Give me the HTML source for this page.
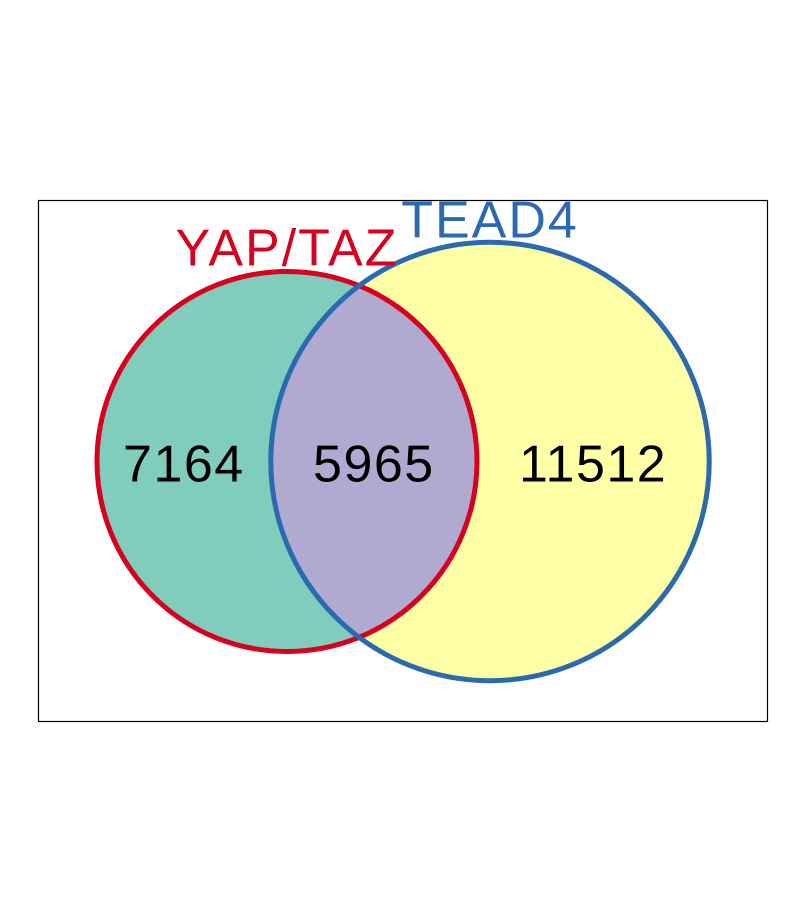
<!DOCTYPE html>
<html><head><meta charset="utf-8"><style>
html,body{margin:0;padding:0;background:#fff;}
svg{display:block;font-family:"Liberation Sans",Arial,sans-serif;}
</style></head><body>
<svg id="chart" width="806" height="924" viewBox="0 0 806 924">
<rect x="38.5" y="200.5" width="729" height="521" fill="none" stroke="#000" stroke-width="1.2"/>
<defs><clipPath id="clipA"><circle id="clipCircle" cx="0" cy="0" r="0"/></clipPath></defs>
<g id="layer"></g>
</svg>
<script>
const setNames = ["YAP/TAZ", "TEAD4"];
const regionCounts = [7164, 5965, 11512]; // A only, A∩B, B only
const setColors = ["#d7001f", "#2b6aae"];
const fillColors = ["#80cdbe", "#b0aad1", "#ffffa6"];

const NS = "http://www.w3.org/2000/svg";
const layer = document.getElementById("layer");
const totalA = regionCounts[0] + regionCounts[1];
const totalB = regionCounts[1] + regionCounts[2];
const k = 190 / Math.sqrt(13129);
const rA = k * Math.sqrt(totalA), rB = k * Math.sqrt(totalB);
const cy = 461.5, cxA = 287, cxB = cxA + 203;

function mk(tag, attrs) { const e = document.createElementNS(NS, tag); for (const a in attrs) e.setAttribute(a, attrs[a]); layer.appendChild(e); return e; }

const fb = mk("circle", {cx: cxB, cy: cy, r: rB, fill: fillColors[2]});


const fa = mk("circle", {cx: cxA, cy: cy, r: rA, fill: fillColors[0]});


const cc = document.getElementById("clipCircle");
cc.setAttribute("cx", cxA); cc.setAttribute("cy", cy); cc.setAttribute("r", rA);
const fi = mk("circle", {cx: cxB, cy: cy, r: rB, fill: fillColors[1], "clip-path": "url(#clipA)"});



const sa = mk("circle", {cx: cxA, cy: cy, r: rA, fill: "none", stroke: setColors[0], "stroke-width": 5});


const sb = mk("circle", {cx: cxB, cy: cy, r: rB, fill: "none", stroke: setColors[1], "stroke-width": 5});



const xs = [(cxA - rA + cxB - rB) / 2, (cxB - rB + cxA + rA) / 2, (cxA + rA + cxB + rB) / 2];
const regionNames = ["count-yap-taz-only", "count-intersection", "count-tead4-only"];
for (let i = 0; i < 3; i++) {
  const t = mk("text", {x: xs[i], y: cy + 20, "text-anchor": "middle", "font-size": 52, "letter-spacing": 1.5, fill: "#000"});
  t.textContent = regionCounts[i];
  
  
}
const la = mk("text", {x: cxA, y: cy - rA - 6, "text-anchor": "middle", "font-size": 52, "letter-spacing": 2, fill: setColors[0]});
la.textContent = setNames[0];


const lb = mk("text", {x: cxB, y: cy - rB - 5, "text-anchor": "middle", "font-size": 52, "letter-spacing": 2, fill: setColors[1]});
lb.textContent = setNames[1];


</script>
</body></html>
